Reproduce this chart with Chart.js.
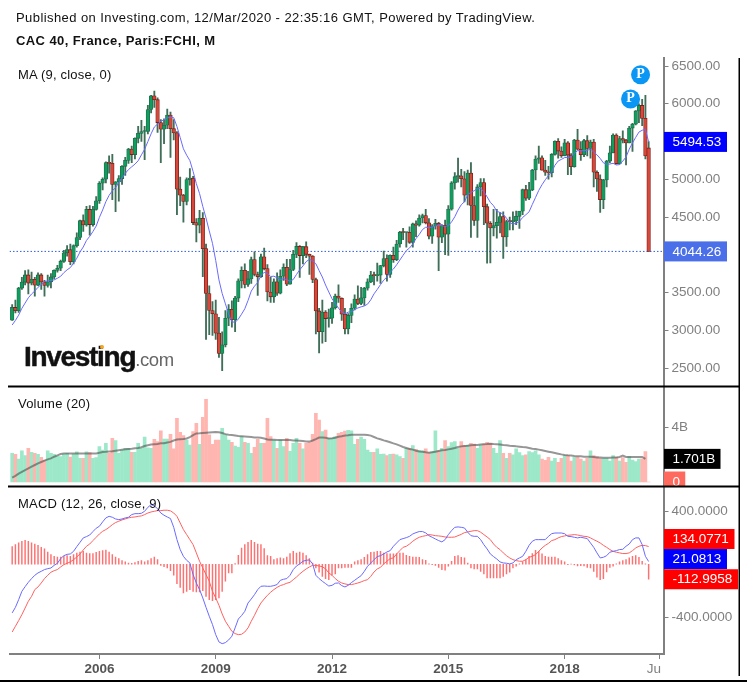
<!DOCTYPE html>
<html><head><meta charset="utf-8">
<style>
html,body{margin:0;padding:0;background:#fff;width:747px;height:682px;overflow:hidden}
canvas{position:absolute;left:0;top:0}
.t{position:absolute;font-family:"Liberation Sans",Arial,sans-serif;color:#111;white-space:nowrap;line-height:1}
</style>
<script src="https://cdn.jsdelivr.net/npm/chart.js@4"></script>
</head><body>
<canvas id="c" width="747" height="682"></canvas>
<div class="t" style="left:16px;top:11px;font-size:13px;letter-spacing:.42px">Published on Investing.com, 12/Mar/2020 - 22:35:16 GMT, Powered by TradingView.</div>
<div class="t" style="left:16px;top:34px;font-size:13px;font-weight:700;letter-spacing:.4px">CAC 40, France, Paris:FCHI, M</div>
<div class="t" style="left:18px;top:68px;font-size:13px;letter-spacing:.2px">MA (9, close, 0)</div>
<div class="t" style="left:18px;top:397px;font-size:13px;letter-spacing:.2px">Volume (20)</div>
<div class="t" style="left:18px;top:497px;font-size:13px;letter-spacing:.2px">MACD (12, 26, close, 9)</div>
<div class="t" style="left:24px;top:343px;font-size:28px;font-weight:700;letter-spacing:-1.3px;color:#111;-webkit-text-stroke:.5px #111">Investing<span style="font-size:18.5px;font-weight:400;letter-spacing:-.4px;color:#666;-webkit-text-stroke:0">.com</span></div>
<div style="position:absolute;left:100px;top:345px;width:4px;height:4px;border-radius:2px;background:#f5a623"></div>
<script>
// Months: index 0 = Oct 2003, index 197 = Mar 2020
const open = [3134,3302,3259,
3558,3638,3733,3625,3674,3597,3733,3640,3594,3641,3706,3793,
3821,3913,4027,4067,3908,4120,4229,4451,4394,4600,4400,4601,
4715,4947,5000,5220,5210,4930,4965,5009,5171,5250,5399,5327,
5542,5608,5632,5634,5924,6104,6054,5751,5662,5715,5850,5670,
5614,4869,4790,4707,4996,5014,4426,4392,4482,4081,3487,3262,
3218,2962,2693,2807,3159,3277,3140,3426,3654,3795,3607,3680,
3936,3739,3708,3974,3816,3507,3443,3643,3491,3715,3833,3610,
3805,4005,4110,3989,4107,4006,3982,3672,3256,2982,3242,3155,
3160,3298,3452,3424,3213,3017,3196,3291,3413,3355,3429,3557,
3641,3732,3723,3731,3856,3949,3739,3993,3934,4143,4299,4295,
4296,4165,4408,4392,4487,4519,4423,4246,4381,4416,4233,4390,
4273,4604,4951,5034,5046,5007,4790,5082,4652,4455,4898,4957,
4637,4417,4354,4385,4429,4506,4237,4440,4438,4448,4509,4578,
4862,4749,4859,5123,5267,5283,5121,5094,5086,5330,5503,5373,
5313,5482,5320,5167,5520,5398,5324,5511,5407,5493,5093,5003,
4731,4992,5241,5351,5586,5208,5539,5519,5480,5678,5730,5905,
5978,5806,5415];
const high = [3340,3400,3570,
3700,3790,3800,3770,3700,3760,3750,3660,3730,3750,3800,3860,
3930,4060,4120,4140,4130,4290,4460,4530,4640,4650,4640,4770,
4970,5020,5230,5310,5330,4970,5050,5180,5290,5410,5440,5550,
5700,5780,5700,5980,6110,6168,6080,5790,5800,5930,5890,5790,
5630,5030,4800,5020,5140,5040,4480,4590,4560,4140,3590,3380,
3400,3170,2980,3260,3340,3390,3450,3680,3840,3880,3780,3970,
4040,3770,4010,4090,3870,3700,3680,3760,3800,3880,3940,3940,
4060,4160,4120,4110,4170,4010,3990,3690,3290,3400,3260,3280,
3370,3480,3600,3430,3290,3220,3350,3470,3590,3570,3570,3680,
3780,3770,3890,3860,4050,4000,4000,4100,4190,4310,4350,4300,
4370,4420,4450,4530,4540,4600,4480,4400,4470,4430,4400,4460,
4650,4970,5090,5280,5130,5100,5120,5220,4770,4930,5010,5010,
4670,4440,4600,4600,4560,4570,4460,4500,4570,4580,4570,4870,
4920,4960,5130,5310,5440,5310,5250,5170,5340,5510,5540,5430,
5530,5500,5340,5530,5660,5500,5530,5580,5520,5530,5110,5060,
5000,5250,5440,5600,5600,5570,5640,5530,5700,5740,5910,6000,
6060,6110,5500];
const low = [3130,3230,3235,
3540,3600,3480,3600,3450,3590,3540,3450,3570,3560,3680,3770,
3790,3900,3980,3870,3880,4100,4200,4310,4380,4260,4380,4590,
4680,4860,4950,5080,4730,4570,4710,4930,5050,5210,5220,5270,
5480,5500,5260,5600,5880,5950,5620,5220,5470,5670,5290,5520,
4530,4650,4430,4660,4920,4400,4170,4290,3710,2880,2940,2930,
2880,2640,2465,2780,3060,3040,2980,3380,3560,3560,3580,3620,
3720,3460,3700,3800,3390,3370,3370,3460,3480,3660,3590,3610,
3790,3960,3700,3880,3960,3740,3630,2950,2700,2830,2850,3040,
3090,3280,3370,3130,2950,2950,3100,3270,3340,3340,3330,3530,
3630,3600,3650,3620,3840,3650,3700,3900,3920,4100,4200,4100,
4150,4100,4240,4380,4420,4410,4210,4150,4340,3790,4160,4000,
3990,4590,4870,4960,4900,4700,4660,4230,4390,4230,4780,4400,
3890,3892,4250,4220,4290,3950,4110,4330,4330,4400,4350,4530,
4720,4730,4850,4990,5210,5120,5050,5000,5030,5320,5280,5290,
5310,5060,5060,5160,5390,5250,5300,5310,5280,4900,4840,4560,
4610,4900,5220,5350,5200,5200,5480,5190,5480,5370,5720,5750,
5710,5270,4044];
const close = [3302,3259,3558,
3638,3733,3625,3674,3597,3733,3640,3594,3641,3706,3793,3821,
3913,4027,4067,3908,4120,4229,4451,4394,4600,4400,4601,4715,
4947,5000,5220,5210,4930,4965,5009,5171,5250,5399,5327,5542,
5608,5632,5634,5924,6104,6054,5751,5662,5715,5850,5670,5614,
4869,4790,4707,4996,5014,4426,4392,4482,4081,3487,3262,3218,
2962,2693,2807,3159,3277,3140,3426,3654,3795,3607,3680,3936,
3739,3708,3974,3816,3507,3443,3643,3491,3715,3833,3610,3805,
4005,4110,3989,4107,4006,3982,3672,3256,2982,3242,3155,3160,
3298,3452,3424,3213,3017,3196,3291,3413,3355,3429,3557,3641,
3732,3723,3731,3856,3949,3739,3993,3934,4143,4299,4295,4296,
4165,4408,4392,4487,4519,4423,4246,4381,4416,4233,4390,4273,
4604,4951,5034,5046,5007,4790,5082,4652,4455,4898,4957,4637,
4417,4354,4385,4429,4506,4237,4440,4438,4448,4509,4578,4862,
4749,4859,5123,5267,5283,5121,5094,5086,5330,5503,5373,5313,
5482,5320,5167,5520,5398,5324,5511,5407,5493,5093,5003,4731,
4992,5241,5351,5586,5208,5539,5519,5480,5678,5730,5905,5978,
5806,5309,4044];
const maLine = [3070,3130,3200,3290,3360,3430,3480,3520,3569,3606,3644,3653,3660,3667,3689,
3715,3763,3800,3830,3888,3954,4037,4103,4190,4244,4308,4380,
4495,4593,4703,4787,4847,4888,4955,5019,5078,5128,5165,5200,
5245,5323,5397,5499,5602,5692,5731,5768,5787,5814,5818,5816,
5699,5553,5403,5319,5247,5104,4942,4810,4640,4486,4316,4151,
3925,3667,3487,3350,3216,3112,3105,3148,3213,3284,3394,3519,
3584,3632,3724,3768,3751,3712,3716,3695,3671,3681,3670,3651,
3672,3739,3800,3852,3909,3939,3921,3881,3790,3705,3599,3507,
3417,3355,3293,3242,3216,3240,3245,3274,3295,3310,3322,3346,
3403,3482,3541,3604,3664,3706,3769,3811,3867,3930,3993,4056,
4090,4141,4214,4269,4334,4365,4359,4369,4382,4389,4387,4374,
4387,4435,4503,4592,4662,4703,4797,4827,4847,4879,4880,4836,
4766,4694,4649,4576,4560,4536,4485,4427,4406,4416,4441,4494,
4530,4569,4667,4759,4853,4928,4993,5049,5101,5185,5242,5263,
5287,5291,5296,5344,5378,5378,5379,5382,5402,5359,5324,5276,
5217,5199,5202,5211,5189,5194,5241,5294,5399,5481,5555,5625,
5649,5660,5494.53];
const volume = [2.11,2.03,1.69,2.30,1.94,2.48,2.18,2.11,2.03,1.81,
1.62,2.30,2.11,2.03,1.91,1.86,2.06,2.11,1.84,2.06,
2.21,1.74,1.74,2.21,2.16,1.74,1.79,2.60,2.35,2.84,
2.11,3.21,3.04,2.11,2.35,2.48,2.48,2.18,2.18,2.84,
2.48,3.31,2.52,2.48,3.14,2.97,3.77,3.16,3.16,3.50,
2.43,4.68,3.65,3.41,3.09,2.72,3.70,4.31,2.77,4.75,
6.08,3.46,2.77,3.09,3.09,3.95,3.46,3.09,2.92,2.65,
2.55,3.33,2.92,2.84,2.11,2.55,3.14,2.84,2.84,4.68,
3.33,3.09,2.48,3.09,2.60,3.21,2.25,2.84,3.21,2.84,
2.43,2.84,2.92,3.50,5.05,4.56,3.70,3.82,3.21,
3.21,3.33,3.58,3.65,3.75,3.80,3.77,2.77,3.14,3.31,
3.14,2.35,2.18,2.18,2.43,2.03,2.06,1.94,2.03,2.06,
1.99,1.86,1.74,2.48,2.48,2.67,2.40,2.33,2.30,2.43,
2.16,2.23,3.77,2.30,2.48,3.04,2.60,2.89,2.97,2.48,
2.97,2.67,2.72,2.84,2.79,2.48,2.72,2.79,2.92,2.84,
2.48,2.11,3.04,2.11,1.74,2.11,1.99,2.43,2.16,1.94,
1.99,2.23,2.16,2.30,1.99,1.69,1.59,1.81,1.54,1.74,
1.45,1.74,1.94,1.94,1.54,1.81,1.84,1.69,1.54,1.74,
2.30,1.94,1.86,1.74,1.74,1.74,1.54,1.94,1.81,1.54,
1.79,1.45,1.86,1.62,1.50,1.69,1.70,2.23,0];
const volumeMa = [.32,.45,.62,.75,.88,1.0,1.13,1.25,1.37,1.47,
1.57,1.66,1.74,1.86,1.96,2.06,2.1,2.1,2.1,2.1,
2.1,2.1,2.1,2.1,2.1,2.1,2.1,2.15,2.2,2.22,
2.25,2.26,2.3,2.34,2.38,2.4,2.42,2.44,2.48,2.5,
2.56,2.65,2.7,2.75,2.78,2.8,2.84,2.85,2.9,2.95,
3.05,3.12,3.14,3.16,3.2,3.3,3.45,3.57,3.58,3.6,
3.62,3.64,3.66,3.68,3.66,3.6,3.52,3.47,3.45,3.42,
3.38,3.36,3.34,3.32,3.3,3.28,3.27,3.25,3.2,3.13,
3.1,3.1,3.09,3.09,3.09,3.09,3.08,3.06,3.05,3.03,
3.01,2.98,2.97,3.05,3.15,3.27,3.28,3.26,3.2,
3.21,3.25,3.33,3.36,3.41,3.43,3.48,3.48,3.48,3.48,
3.48,3.45,3.41,3.31,3.21,3.14,3.06,2.99,2.92,2.84,
2.77,2.67,2.57,2.5,2.43,2.38,2.3,2.25,2.23,2.18,
2.16,2.18,2.23,2.28,2.33,2.35,2.4,2.45,2.5,2.57,
2.62,2.65,2.67,2.7,2.72,2.72,2.75,2.77,2.79,2.82,
2.79,2.77,2.75,2.72,2.7,2.67,2.65,2.62,2.6,2.57,
2.55,2.5,2.45,2.43,2.38,2.33,2.28,2.23,2.18,2.13,
2.08,2.03,1.99,1.96,1.94,1.91,1.89,1.89,1.86,1.86,
1.86,1.84,1.81,1.81,1.79,1.79,1.79,1.81,1.81,1.84,
1.94,1.84,1.84,1.84,1.84,1.84,1.84,1.701];
const macd = [-367,-325,-267,-204,-169,-136,-108,-83,-65,-53,
-40,-33,-28,-8,8,43,65,75,78,98,
133,166,199,209,221,247,272,287,320,350,
362,355,342,337,342,350,355,375,382,382,
385,400,430,450,440,420,387,370,357,345,
279,186,111,60,30,10,-78,-141,-191,-254,
-325,-392,-455,-531,-586,-599,-591,-571,-543,-480,
-413,-387,-355,-292,-262,-229,-191,-166,-164,-166,
-166,-161,-153,-121,-113,-108,-83,-40,-13,3,
23,30,33,3,-83,-108,-128,-146,-164,
-159,-143,-141,-161,-171,-159,-138,-121,-103,-86,
-53,-15,10,35,58,65,78,93,103,136,
161,186,194,201,211,229,239,247,247,237,
216,204,191,179,169,186,224,254,279,282,
279,274,242,216,211,211,186,148,116,78,
58,40,18,10,8,3,10,35,48,60,
98,143,174,186,186,186,186,211,231,236,
236,236,231,211,209,204,199,204,199,194,
161,128,86,48,53,65,91,98,103,111,
113,136,153,186,199,199,148,60,21.08];
const signal = [-511,-468,-425,-380,-330,-279,-242,-191,-171,-141,
-108,-83,-60,-48,-40,-20,-3,8,18,35,
55,78,108,136,153,179,204,229,249,262,
279,299,315,325,335,342,350,355,357,362,
365,375,387,395,400,405,405,408,408,403,
387,362,312,262,224,186,148,86,23,-28,
-78,-128,-204,-254,-309,-375,-430,-468,-506,-523,
-531,-528,-511,-480,-430,-385,-335,-292,-262,-234,
-211,-191,-174,-161,-153,-143,-136,-116,-96,-73,
-53,-35,-20,-8,-8,-13,-18,-35,-65,
-83,-108,-128,-141,-148,-153,-153,-148,-141,-133,
-123,-116,-91,-58,-35,-23,3,23,43,48,
78,103,128,136,153,174,191,204,211,216,
224,221,216,214,211,206,204,204,206,216,
226,239,244,249,254,254,242,224,206,186,
153,128,111,86,65,48,35,28,23,23,
35,53,60,73,98,123,143,158,179,186,
199,209,214,219,221,224,221,216,211,209,
199,186,174,161,143,128,111,98,91,86,
81,81,86,103,123,136,143,141,134.08];
const histogram = [133,148,161,174,181,174,161,153,143,128,
116,93,73,60,55,55,60,65,60,73,
85,93,98,85,80,80,90,98,103,108,
93,73,55,43,28,18,10,8,13,23,
28,18,28,43,55,35,-8,-18,-28,-48,
-83,-146,-174,-216,-204,-191,-204,-209,-209,-199,
-242,-267,-274,-267,-254,-204,-128,-65,-65,5,
68,123,148,166,181,166,153,148,118,65,
60,35,43,48,43,55,80,98,85,93,
85,65,43,10,-28,-60,-91,-108,-116,
-83,-73,-28,-28,-23,-23,-23,18,28,35,
53,73,90,93,98,98,85,80,78,78,
80,85,85,68,60,55,55,53,35,30,
3,-3,-8,-23,-40,-45,-15,23,60,65,
53,48,10,-28,-35,-35,-53,-73,-103,-103,
-103,-103,-103,-91,-73,-60,-28,-15,3,18,
35,60,80,105,98,78,60,55,55,55,
43,28,18,-3,1,-5,-13,-10,-13,-23,
-28,-53,-98,-116,-108,-58,-23,-15,3,18,
28,35,48,60,65,53,23,3,-112.9958];
const priceTicks = [2500,3000,3500,4500,5000,6000,6500];
const volumeTicks = [4];
const macdTicks = [400,-400];
const xTickMonths = [27,63,99,135,171,200.4];
const xTickLabels = ['2006','2009','2012','2015','2018','Ju   '];
const pivotX = [191.4,194.5];
const pivotY = [6063,6385];
const lastPrice = 4044.26;

const UP='#0d9f5e',UPB='#23694a',DN='#d8483a',DNB='#7a1d16';
const idx = close.map((_,i)=>i);
const isUp = i => close[i]>=open[i];
const xLo=-0.83, xHi=201.6;
const paneH=[328.5,100,167.5];

const overlay={id:'overlay',afterDraw(ch){
  const c=ch.ctx,{y,yv,ym}=ch.scales;
  c.save();
  c.font='13.5px "Liberation Sans",Arial,sans-serif';c.textBaseline='middle';c.textAlign='left';
  const L=664;
  const tag=(cy,w,bg,txt,clipB)=>{
    c.save();
    if(clipB){c.beginPath();c.rect(L,cy-11,w,clipB-cy+11);c.clip();}
    c.fillStyle=bg;c.fillRect(L,cy-10,w,20);
    c.fillStyle='#fff';c.fillText(txt,672.5,cy+.5);
    c.restore();
  };
  tag(y.getPixelForValue(maLine[197]),63,'#0000ff','5494.53');
  tag(y.getPixelForValue(lastPrice),63,'#4a6fe8','4044.26');
  tag(yv.getPixelForValue(volumeMa[196]),56.5,'#000','1.701B');
  tag(yv.getPixelForValue(0)-.5,21.5,'#ff6a5f','0',yv.bottom);
  const m0=ym.getPixelForValue(21.08);
  tag(m0-22.5,70.5,'#ff0000','134.0771');
  tag(m0-2.5,63,'#0000ff','21.0813');
  tag(ym.getPixelForValue(-112.9958),74,'#ff0000','-112.9958');
  c.font='bold 14px "Liberation Serif",serif';c.textAlign='center';c.fillStyle='#fff';
  pivotX.forEach((px,i)=>c.fillText('P',ch.scales.x.getPixelForValue(px),y.getPixelForValue(pivotY[i])-.5));
  c.fillStyle='#000';
  c.fillRect(8,385.5,731,2);c.fillRect(8,485.5,731,2);
  c.fillRect(738.5,58,1.5,618);
  c.fillRect(0,680,747,2);
  c.restore();
}};

const commonY=(ticks,fmt,min,max,weight,w)=>({type:'linear',position:'right',stack:'panes',stackWeight:weight,weight:w,min,max,
  offset:false,
  afterBuildTicks:s=>{s.ticks=ticks.map(v=>({value:v}));},
  afterFit:s=>{s.width=83.5;},
  grid:{drawOnChartArea:false,drawTicks:true,tickLength:5,tickColor:'#808080',tickWidth:1},
  border:{color:'#808080',width:2},
  ticks:{autoSkip:false,maxRotation:0,color:'#808080',padding:3,align:'center',crossAlign:'near',
    font:{family:'"Liberation Sans",Arial,sans-serif',size:13.5},callback:fmt}});

new Chart(document.getElementById('c'),{
  type:'bar',
  plugins:[overlay],
  data:{datasets:[
    {type:'line',yAxisID:'y',order:9,data:[{x:xLo,y:lastPrice},{x:xHi,y:lastPrice}],borderColor:'#2f5fe8',borderWidth:1,borderDash:[1.5,2],pointRadius:0},
    {type:'bar',yAxisID:'y',order:8,grouped:false,barThickness:1.2,data:idx.map(i=>({x:i,y:[low[i],high[i]]})),backgroundColor:'#3f6f58'},
    {type:'bar',yAxisID:'y',order:7,grouped:false,barThickness:3.6,minBarLength:1,borderWidth:.8,borderSkipped:false,data:idx.map(i=>({x:i,y:[open[i],close[i]]})),
      backgroundColor:idx.map(i=>isUp(i)?UP:DN),borderColor:idx.map(i=>isUp(i)?UPB:DNB)},
    {type:'line',yAxisID:'y',order:5,data:idx.map(i=>({x:i,y:maLine[i]})),borderColor:'#6a6aff',borderWidth:1,pointRadius:0,tension:0},
    {type:'line',yAxisID:'y',order:4,showLine:false,data:pivotX.map((px,i)=>({x:px,y:pivotY[i]})),pointRadius:9.5,pointBackgroundColor:'#0a96f5',pointBorderWidth:0,pointHoverRadius:9.5},
    {type:'bar',yAxisID:'yv',order:8,grouped:false,barThickness:3,data:idx.map(i=>({x:i,y:volume[i]})),backgroundColor:idx.map(i=>isUp(i)?'#9ce8c8':'#ffb6b1')},
    {type:'line',yAxisID:'yv',order:5,data:volumeMa.map((v,i)=>({x:i,y:v})),borderColor:'rgba(80,80,80,.6)',borderWidth:2,pointRadius:0},
    {type:'bar',yAxisID:'ym',order:8,grouped:false,barThickness:.8,data:idx.map(i=>({x:i,y:[0,histogram[i]]})),backgroundColor:'#ff7070'},
    {type:'line',yAxisID:'ym',order:5,data:idx.map(i=>({x:i,y:signal[i]})),borderColor:'#ff6060',borderWidth:1,pointRadius:0},
    {type:'line',yAxisID:'ym',order:4,data:idx.map(i=>({x:i,y:macd[i]})),borderColor:'#6a6aff',borderWidth:1,pointRadius:0}
  ]},
  options:{
    responsive:false,animation:false,events:[],
    layout:{padding:{left:8,right:0,top:58,bottom:0}},
    plugins:{legend:{display:false},title:{display:false},tooltip:{enabled:false}},
    scales:{
      x:{type:'linear',min:xLo,max:xHi,offset:false,
        afterBuildTicks:s=>{s.ticks=xTickMonths.map(v=>({value:v}));},
        afterFit:s=>{s.height=28;},
        grid:{offset:false,drawOnChartArea:false,tickLength:5,tickColor:'#808080',tickWidth:1},
        border:{color:'#808080',width:2},
        ticks:{autoSkip:false,maxRotation:0,padding:2,
          color:c=>c.index===5?'#808080':'#555',
          font:c=>({family:'"Liberation Sans",Arial,sans-serif',size:13.5,weight:c.index===5?'400':'700'}),
          callback:(v,i)=>xTickLabels[i]}},
      y:commonY(priceTicks,v=>v.toFixed(2),2255,6606,paneH[0],1),
      yv:commonY(volumeTicks,v=>v+'B',-0.33,7.02,paneH[1],2),
      ym:commonY(macdTicks,v=>v.toFixed(4),-677,587,paneH[2],3)
    }
  }
});
</script>
</body></html>
